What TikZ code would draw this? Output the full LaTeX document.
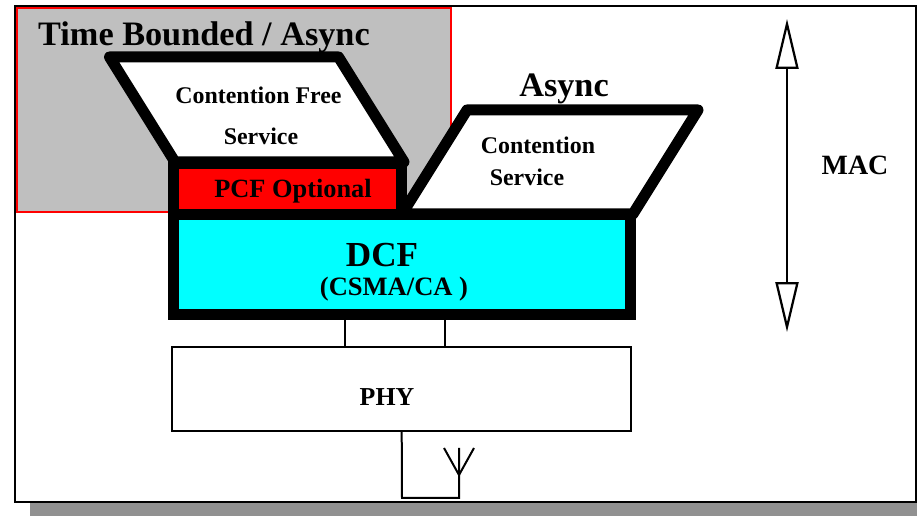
\documentclass[tikz,border=0pt]{standalone}
\usepackage{fontspec}
\setmainfont{Liberation Serif}
\usepackage{tikz}
\usetikzlibrary{arrows.meta}
\definecolor{dcfcyan}{rgb}{0,1,1}
\definecolor{pcfred}{rgb}{1,0,0}
\definecolor{areagray}{rgb}{0.75,0.75,0.75}
\definecolor{shadowgray}{rgb}{0.57,0.57,0.57}
\tikzset{
  heavy/.style={line width=0.22cm, line join=round},
  thinbox/.style={draw=black, line width=0.04cm, fill=white, inner sep=0pt},
  heavybox/.style={draw=black, line width=0.22cm, inner sep=0pt},
  caption/.style={inner sep=0pt},
  wire/.style={draw=black, line width=0.04cm},
  macarrow/.style={line width=0.055cm, >={Triangle[open,fill=white,line width=0.045cm,length=1cm,width=0.46cm]}, <->}
}
\begin{document}
\begin{tikzpicture}[x=0.02cm,y=-0.02cm]
\useasboundingbox (0,0) rectangle (917,516);
\coordinate (a) at (109.5,57);
\coordinate (b) at (338.5,57);
\coordinate (c) at (404,162);
\coordinate (d) at (175,162);
\coordinate (e) at (467,110);
\coordinate (f) at (698,110);
\coordinate (g) at (633,214);
\coordinate (h) at (402,214);
\coordinate (mactop) at (787,19);
\coordinate (macbot) at (787,332);
\coordinate (stemleft) at (345,347);
\coordinate (stemright) at (445,347);
% draws frame and shaded area
\fill[shadowgray] (30,20) rectangle (917,516);
\draw[fill=white, line width=0.05cm] (15,6) rectangle (916,502);
\draw[pcfred, fill=areagray, line width=0.04cm] (17,8) rectangle (451,212);
% draws service shapes
\draw[heavy, fill=white] (a) -- (b) -- (c) -- (d) -- cycle;
\draw[heavy, fill=white] (e) -- (f) -- (g) -- (h) -- cycle;
% draws boxes
\node[heavybox, fill=pcfred, minimum width=4.56cm, minimum height=1.01cm] (pcf) at (287.5,188.8) {};
\node[heavybox, fill=dcfcyan, minimum width=9.14cm, minimum height=2cm] (dcf) at (402,264.7) {};
\node[thinbox, minimum width=9.18cm, minimum height=1.68cm] (phy) at (401.7,389) {};
% labels boxes
\node[caption, font=\bfseries\fontsize{19.5}{21}\selectfont] (timetext) at (204,37) {Time Bounded / Async};
\node[caption, font=\bfseries\fontsize{13.6}{15}\selectfont] (freetext) at (258.5,95) {Contention Free};
\node[caption, font=\bfseries\fontsize{13.6}{15}\selectfont] (servicetext) at (261,136) {Service};
\node[caption, font=\bfseries\fontsize{19.5}{21}\selectfont] (asynctext) at (564,89) {Async};
\node[caption, font=\bfseries\fontsize{13.6}{15}\selectfont] (contenttext) at (538,145) {Contention};
\node[caption, font=\bfseries\fontsize{13.6}{15}\selectfont] (contservtext) at (527,177) {Service};
\node[caption, font=\bfseries\fontsize{15}{17}\selectfont] (pcftext) at (293,191) {PCF Optional};
\node[caption, font=\bfseries\fontsize{20}{22}\selectfont] (dcftext) at (382,255) {DCF};
\node[caption, font=\bfseries\fontsize{15.1}{17}\selectfont] (csmatext) at (394,289) {(CSMA/CA )};
\node[caption, font=\bfseries\fontsize{14.7}{16}\selectfont] (phytext) at (387,397) {PHY};
\node[caption, font=\bfseries\fontsize{15.9}{17}\selectfont] (mactext) at (855,165) {MAC};
% draws connectors
\draw[wire] (stemleft |- dcf.south) -- (stemleft |- phy.north);
\draw[wire] (stemright |- dcf.south) -- (stemright |- phy.north);
% draws antenna
\coordinate (ant) at (459,475);
\coordinate (anttop) at (459,448);
\coordinate (antl) at (444,448);
\coordinate (antr) at (474,448);
\coordinate (antfoot) at (402,498);
\coordinate (antbase) at (459,498);
\draw[wire] (phy.south) -- (antfoot) -- (antbase) -- (ant) -- (anttop);
\draw[wire] (antl) -- (ant) -- (antr);
% draws MAC arrow
\draw[macarrow] (mactop) to (macbot);
\end{tikzpicture}
\end{document}
